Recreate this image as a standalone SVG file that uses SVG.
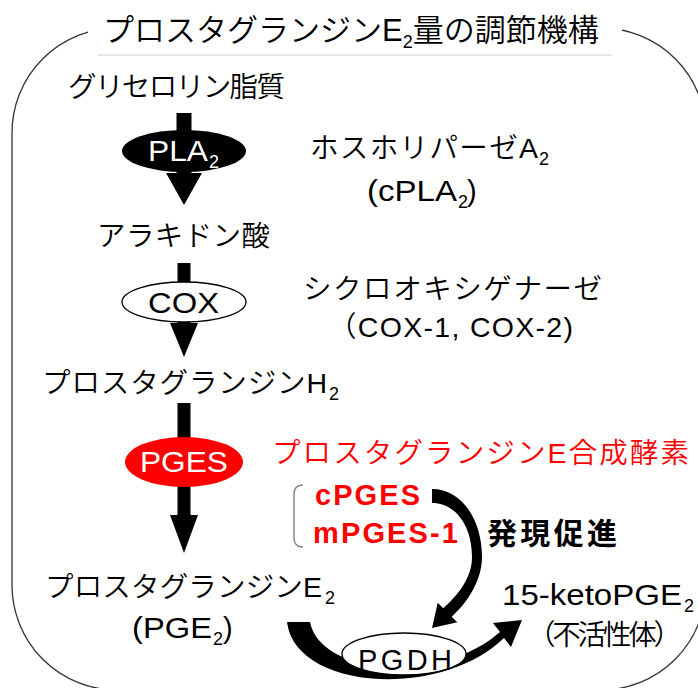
<svg xmlns="http://www.w3.org/2000/svg" width="698" height="688" viewBox="0 0 698 688">
<style>
text{font-family:"Liberation Sans","Noto Sans CJK JP",sans-serif;fill:#000;font-weight:350;}
.t{font-size:28.5px;}
.l{font-size:29px;font-weight:normal;}
.sub{font-size:18px;font-weight:normal;}
.red{fill:#f00;}
.b{font-weight:bold;}
.w{fill:#fff;}
.arrow{fill:#000;stroke:none;}
</style>
<rect x="12" y="28" width="694" height="662" rx="105" ry="105" fill="none" stroke="#333" stroke-width="1.3"/>
<g id="title">
<rect x="88" y="6" width="534" height="49" fill="#fff"/>
<line x1="98" y1="55" x2="612" y2="55" stroke="#ccc" stroke-width="1"/>
<text x="103" y="41" style="font-size:31px">プロスタグランジン<tspan style="font-weight:normal">E</tspan><tspan class="sub" dy="7">2</tspan><tspan dy="-7">量の調節機構</tspan></text>
</g>
<g id="connectors">
<rect class="arrow" x="176.5" y="113" width="15" height="62"/>
<polygon class="arrow" points="166,173 202,173 184,205"/>
<rect class="arrow" x="177.5" y="263" width="13" height="62"/>
<polygon class="arrow" points="170,323 198,323 184,357"/>
<rect class="arrow" x="177.5" y="403" width="13" height="114"/>
<polygon class="arrow" points="170,515 198,515 184,553"/>
<path class="arrow" d="M432 489 C462 489 482 520 482 557 C482 580 468 602 451.7 616.7 L457.3 622.3 L432 628 L437.7 602.7 L443.3 608.3 C458 595 472 578 472 557 C472 525 455 503 432 503 Z"/>
<path class="arrow" d="M287 622 C295 690 440 700 504 638 L511 647 L522 620 L493 623 L500 632 C440 685 320 675 310 622 Z"/>
</g>
<g id="glycerophospholipid"><text class="t" x="68" y="97" textLength="217">グリセロリン脂質</text></g>
<g id="pla2">
<ellipse cx="184" cy="151" rx="62" ry="21" fill="#000"/>
<text class="w l" x="148" y="161" textLength="60" lengthAdjust="spacingAndGlyphs">PLA</text>
<text class="w sub" x="209" y="168">2</text>
</g>
<g id="pla2-label">
<text class="t" x="310" y="158" textLength="228">ホスホリパーゼ<tspan style="font-weight:normal">A</tspan></text>
<text class="sub" x="539" y="165">2</text>
<text class="l" x="367" y="201" textLength="90" lengthAdjust="spacingAndGlyphs">(cPLA</text>
<text class="sub" x="458" y="208">2</text>
<text class="l" x="467" y="201">)</text>
</g>
<g id="arachidonic"><text class="t" x="97" y="246" textLength="173">アラキドン酸</text></g>
<g id="cox">
<ellipse cx="184" cy="302" rx="62" ry="20" fill="#fff" stroke="#000" stroke-width="1.3"/>
<text class="l" x="148" y="313" textLength="71" lengthAdjust="spacingAndGlyphs">COX</text>
</g>
<g id="cox-label">
<text class="t" x="303" y="299" textLength="299">シクロオキシゲナーゼ</text>
<text class="t" x="328" y="337" textLength="245">（<tspan style="font-weight:normal">COX-1, COX-2)</tspan></text>
</g>
<g id="pgh2">
<text class="t" x="42" y="393" textLength="285">プロスタグランジン<tspan style="font-weight:normal">H</tspan></text>
<text class="sub" x="329" y="400">2</text>
</g>
<g id="pges">
<ellipse cx="184" cy="462" rx="59" ry="25" fill="#f00"/>
<text class="w l" x="140" y="472" textLength="88" lengthAdjust="spacingAndGlyphs">PGES</text>
</g>
<g id="pges-label">
<text class="t red" x="272" y="463" textLength="417">プロスタグランジン<tspan style="font-weight:normal">E</tspan>合成酵素</text>
<path d="M303 485 Q294 485 294 494 L294 538 Q294 547 303 547" fill="none" stroke="#888" stroke-width="1.5"/>
<text class="red b" x="315" y="505" style="font-size:29px" textLength="105">cPGES</text>
<text class="red b" x="313" y="543" style="font-size:29px" textLength="145">mPGES-1</text>
</g>
<g id="promote"><text class="b" x="487" y="544" style="font-size:30px" textLength="130">発現促進</text></g>
<g id="pge2">
<text class="t" x="45" y="597" textLength="277">プロスタグランジン<tspan style="font-weight:normal">E</tspan></text>
<text class="sub" x="325" y="604">2</text>
<text class="l" x="132" y="638" textLength="80" lengthAdjust="spacingAndGlyphs">(PGE</text>
<text class="sub" x="213" y="645">2</text>
<text class="l" x="223" y="638">)</text>
</g>
<g id="pgdh">
<ellipse cx="404" cy="654" rx="62" ry="21" fill="#fff" stroke="#000" stroke-width="1.3"/>
<text class="l" x="358" y="670" textLength="94">PGDH</text>
</g>
<g id="keto">
<text class="l" x="502" y="605" textLength="180" lengthAdjust="spacingAndGlyphs">15-ketoPGE</text>
<text class="sub" x="684" y="612">2</text>
<text class="t" x="527" y="645" textLength="155">（不活性体）</text>
</g>
</svg>
